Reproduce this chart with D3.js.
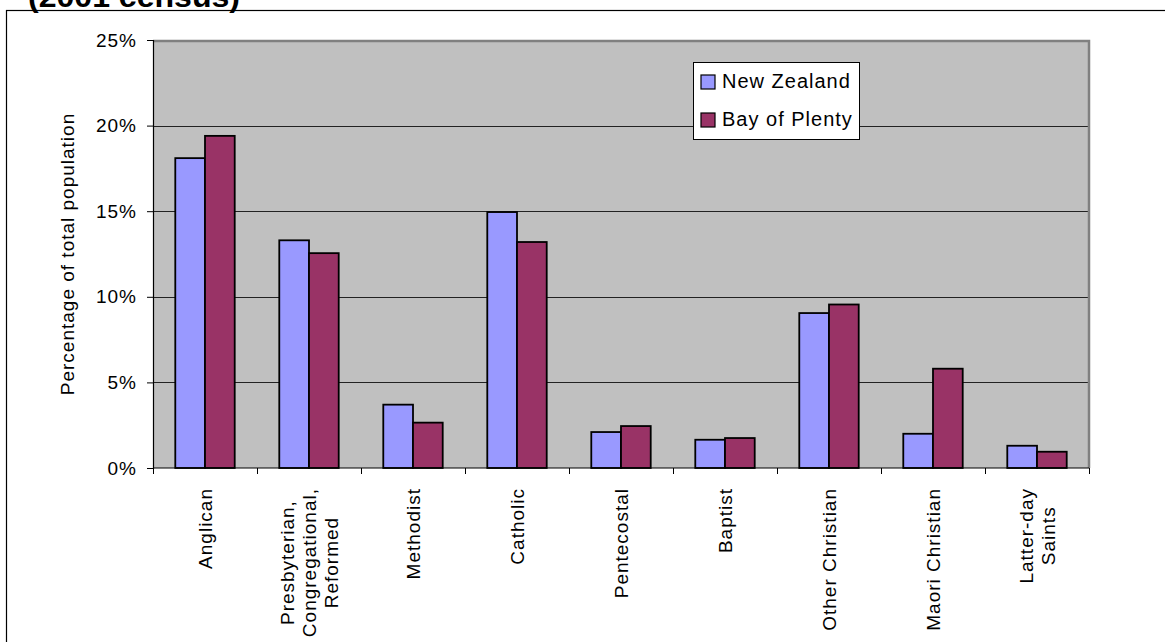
<!DOCTYPE html>
<html>
<head>
<meta charset="utf-8">
<script src="https://cdn.jsdelivr.net/npm/d3@7"></script>
<style>
  html, body { margin: 0; padding: 0; background: #fff; }
  svg { display: block; }
  text { font-family: "Liberation Sans", Arial, sans-serif; fill: #000; }
</style>
</head>
<body>
<svg id="chart" width="1165" height="642"></svg>
<script>
const categories = [
  ["Anglican"],
  ["Presbyterian,", "Congregational,", "Reformed"],
  ["Methodist"],
  ["Catholic"],
  ["Pentecostal"],
  ["Baptist"],
  ["Other Christian"],
  ["Maori Christian"],
  ["Latter-day", "Saints"]
];
const seriesNames = ["New Zealand", "Bay of Plenty"];
const newZealand = [18.1, 13.3, 3.7, 14.95, 2.1, 1.65, 9.05, 2.0, 1.3];
const bayOfPlenty = [19.4, 12.55, 2.65, 13.2, 2.45, 1.75, 9.55, 5.8, 0.95];
const yTicks = [0, 5, 10, 15, 20, 25];
const colors = ["#9999FF", "#993366"];
const titleText = "(2001 census)";
const yTitle = "Percentage of total population";

const svg = d3.select("#chart");
const plot = {left: 153, right: 1089, top: 40, bottom: 468};

// outer chart border (extends beyond the visible window)
svg.append("rect").attr("x", 6.5).attr("y", 10.5).attr("width", 1200).attr("height", 700)
  .attr("fill", "#fff").attr("stroke", "#000").attr("stroke-width", 1.2);

// title (cut off at top, as in the original)
svg.append("text").attr("x", 28).attr("y", 7)
  .attr("font-size", 30).attr("font-weight", "bold")
  .attr("textLength", 212).attr("lengthAdjust", "spacingAndGlyphs")
  .text(titleText);

const catKeys = categories.map((c, i) => i);
const x0 = d3.scaleBand().domain(catKeys).range([plot.left, plot.right]).paddingInner(0).paddingOuter(0);
const x1 = d3.scaleBand().domain([0, 1]).range([0, x0.bandwidth()]).paddingInner(0).paddingOuter(0.75);
const y = d3.scaleLinear().domain([0, 25]).range([plot.bottom, plot.top]);

// plot background
svg.append("rect").attr("x", plot.left).attr("y", plot.top)
  .attr("width", plot.right - plot.left).attr("height", plot.bottom - plot.top)
  .attr("fill", "#C0C0C0");

// gridlines
svg.append("g").selectAll("line").data(yTicks.filter(t => t > 0 && t < 25)).join("line")
  .attr("x1", plot.left).attr("x2", plot.right)
  .attr("y1", d => Math.round(y(d)) + 0.5).attr("y2", d => Math.round(y(d)) + 0.5)
  .attr("stroke", "#222").attr("stroke-width", 1);

// top & right border of plot area
svg.append("path")
  .attr("d", `M${plot.left},${plot.top + 1}H${plot.right}V${plot.bottom}`)
  .attr("fill", "none").attr("stroke", "#808080").attr("stroke-width", 2.5);

// bars
const data = categories.map((c, i) => [newZealand[i], bayOfPlenty[i]]);
const groups = svg.append("g").selectAll("g").data(data).join("g")
  .attr("transform", (d, i) => `translate(${x0(i)},0)`);
groups.selectAll("rect").data(d => d.map((v, s) => ({v, s}))).join("rect")
  .attr("x", d => x1(d.s))
  .attr("y", d => y(d.v))
  .attr("width", x1.bandwidth())
  .attr("height", d => y(0) - y(d.v))
  .attr("fill", d => colors[d.s])
  .attr("stroke", "#000").attr("stroke-width", 1.8);

// y axis
const yAxis = d3.axisLeft(y).tickValues(yTicks).tickSize(6).tickPadding(10).tickFormat(d => d + "%");
const yg = svg.append("g").attr("transform", `translate(${plot.left},0)`).call(yAxis);
yg.select(".domain").attr("stroke", "#000").attr("stroke-width", 1.2);
yg.selectAll(".tick line").attr("stroke", "#000");
yg.selectAll(".tick text").attr("font-size", 19).attr("letter-spacing", 1)
  .attr("font-family", "Liberation Sans, Arial, sans-serif").attr("fill", "#000");

// x axis (ticks at category boundaries)
const bounds = d3.range(categories.length + 1).map(i => plot.left + i * x0.bandwidth());
svg.append("line").attr("x1", plot.left).attr("x2", plot.right)
  .attr("y1", plot.bottom).attr("y2", plot.bottom).attr("stroke", "#000").attr("stroke-width", 1.2);
svg.append("g").selectAll("line").data(bounds).join("line")
  .attr("x1", d => Math.round(d) + 0.5).attr("x2", d => Math.round(d) + 0.5)
  .attr("y1", plot.bottom).attr("y2", plot.bottom + 6).attr("stroke", "#000");

// x labels (rotated)
const lineH = 22;
categories.forEach((lines, i) => {
  const cx = x0(i) + x0.bandwidth() / 2;
  const g = svg.append("g").attr("transform", `translate(${cx},488) rotate(-90)`);
  const texts = lines.map((ln, k) => g.append("text")
    .attr("font-size", 19).attr("letter-spacing", 1)
    .attr("y", (k - (lines.length - 1) / 2) * lineH + 7)
    .attr("text-anchor", "middle")
    .text(ln));
  const maxLen = d3.max(texts, t => t.node().getComputedTextLength());
  texts.forEach(t => t.attr("x", -maxLen / 2));
});

// y title
svg.append("text")
  .attr("transform", `translate(74,${(plot.top + plot.bottom) / 2}) rotate(-90)`)
  .attr("text-anchor", "middle").attr("font-size", 19).attr("letter-spacing", 1)
  .text(yTitle);

// legend
const lg = svg.append("g");
lg.append("rect").attr("x", 693.5).attr("y", 62.5).attr("width", 166).attr("height", 77)
  .attr("fill", "#fff").attr("stroke", "#000").attr("stroke-width", 1);
seriesNames.forEach((name, i) => {
  lg.append("rect").attr("x", 701).attr("y", 75 + i * 38).attr("width", 14).attr("height", 14)
    .attr("fill", colors[i]).attr("stroke", "#000").attr("stroke-width", 1.2);
  lg.append("text").attr("x", 722).attr("y", 88 + i * 38)
    .attr("font-size", 20).attr("letter-spacing", 1).text(name);
});
</script>
</body>
</html>
